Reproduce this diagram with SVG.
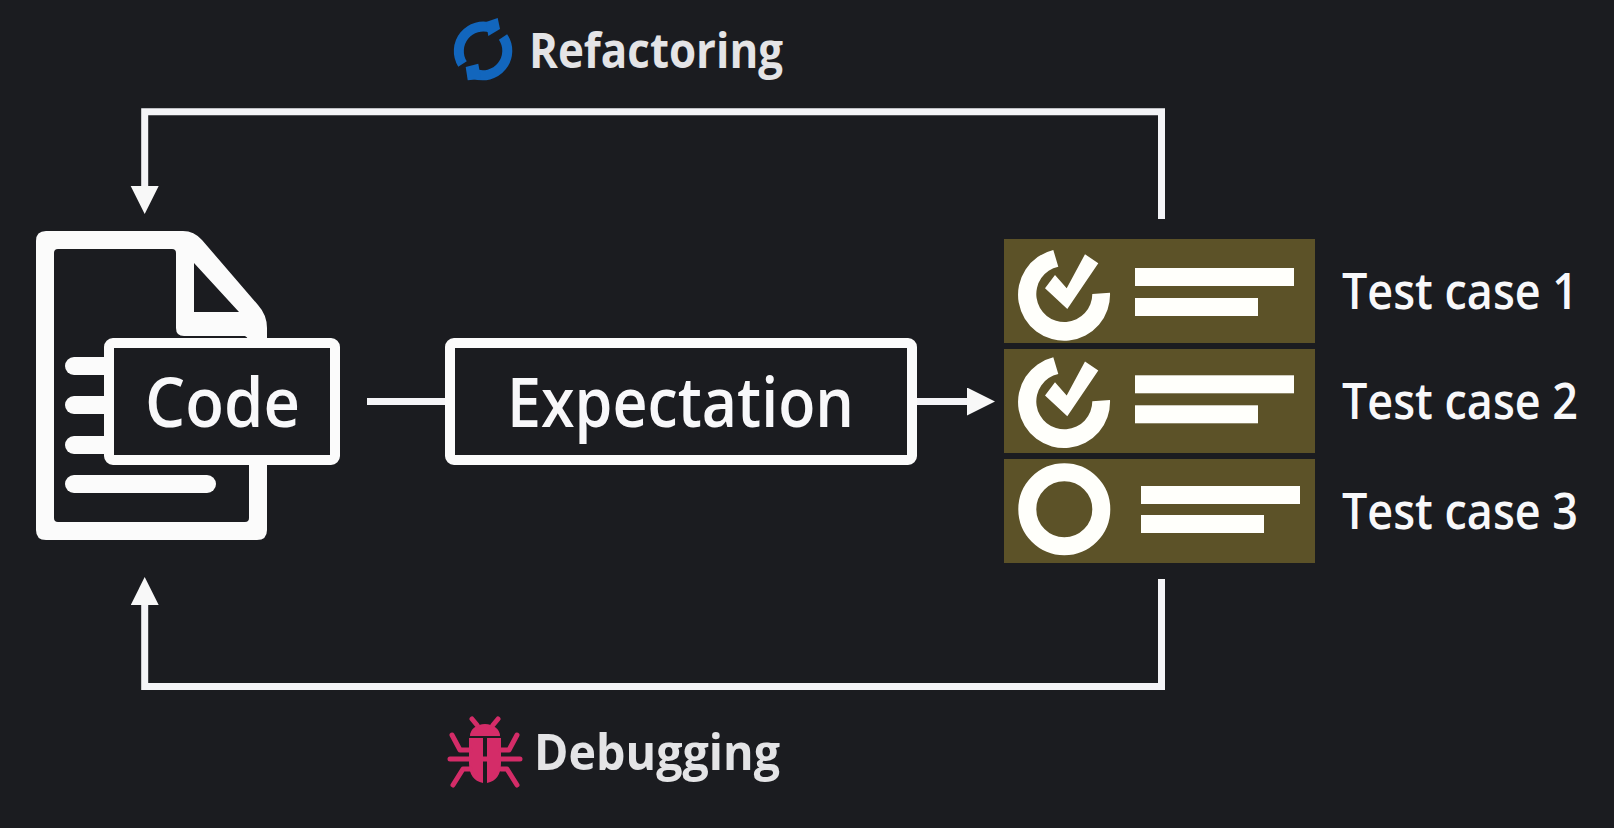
<svg xmlns="http://www.w3.org/2000/svg" width="1614" height="828" viewBox="0 0 1614 828">
<defs>
<style>
.lbl{font-family:"Open Sans","Noto Sans","Liberation Sans",sans-serif;font-weight:700;fill:#e4e4e6}
.box{font-family:"Open Sans","Noto Sans","Liberation Sans",sans-serif;font-weight:600;fill:#f8f8fa}
.w{fill:#fbfbfb}
.conn{fill:none;stroke:#f4f4f7;stroke-width:7}
.tc{fill:#5c5228}
.bar{fill:#fffffb}
.leg{fill:none;stroke:#d42c68;stroke-width:5;stroke-linecap:round;stroke-linejoin:round}
</style>
<marker id="ah" markerUnits="userSpaceOnUse" markerWidth="30" markerHeight="30" refX="1" refY="14" orient="auto"><path d="M0 0L28 14L0 28Z" fill="#f8f8f8"/></marker>
<g id="check">
<path fill="#fffffb" d="M1053.3 250A46 46 0 1 0 1110 292.7L1092.3 294A28 28 0 1 1 1058.3 266.7Z"/>
<path fill="#fffffb" d="M1045 288.3L1055 275L1066.7 288.3L1085 254.3L1098.3 263.3L1067.3 309Z"/>
<rect class="bar" x="1135" y="268" width="159" height="18"/>
<rect class="bar" x="1135" y="298" width="123" height="18"/>
</g>
</defs>
<rect width="1614" height="828" fill="#1b1c20"/>
<g id="connectors">
<path class="conn" d="M1161.5 219V111.8H144.7V187" marker-end="url(#ah)"/>
<path class="conn" d="M1161.5 579V686.5H144.7V604" marker-end="url(#ah)"/>
<path class="conn" d="M367 401.5H450"/>
<path class="conn" d="M912 401.5H968" marker-end="url(#ah)"/>
</g>
<g id="refactoring">
<path d="M491.5 28A24.5 24.5 0 0 0 462.5 64" fill="none" stroke="#1266bd" stroke-width="10"/>
<path d="M503 37A24.5 24.5 0 0 1 473.5 73.5" fill="none" stroke="#1266bd" stroke-width="10"/>
<path d="M497.7 18L500 29L488.3 36L486 22Z" fill="#1266bd"/>
<path d="M467.7 80.3L465.7 67L478.3 63.7L481 79Z" fill="#1266bd"/>
<text class="lbl" x="529" y="68" font-size="49" textLength="254" lengthAdjust="spacingAndGlyphs">Refactoring</text>
</g>
<g id="debugging">
<path d="M470 736a15 12 0 0 1 30 0Z" fill="#d42c68"/>
<path d="M469 738h14v45q-14 -3 -14 -20ZM501 738h-14v45q14 -3 14 -20Z" fill="#d42c68"/>
<path class="leg" d="M472 719l5 6M498 719l-5 6M452 735l8 15h10M517 735l-8 15h-8M450 759h70M453 785l10 -16h7M517 785l-10 -16h-6"/>
<text class="lbl" x="534" y="770" font-size="50" textLength="246" lengthAdjust="spacingAndGlyphs">Debugging</text>
</g>
<g id="code">
<path class="w" fill-rule="evenodd" d="M46 231H183Q194 231 202 240L258 305Q267 315 267 328V530Q267 540 257 540H46Q36 540 36 530V241Q36 231 46 231ZM58 249Q54 249 54 253V518Q54 522 58 522H245Q249 522 249 518V344Q249 338 245 336H184Q176 336 176 328V253Q176 249 172 249ZM194 263V312H239Z"/>
<rect class="w" x="65" y="357" width="48" height="18" rx="9"/>
<rect class="w" x="65" y="396" width="48" height="18" rx="9"/>
<rect class="w" x="65" y="436" width="48" height="18" rx="9"/>
<rect class="w" x="65" y="475" width="151" height="18" rx="9"/>
<rect x="109" y="343" width="226" height="117" rx="4" fill="#1b1c20" stroke="#fbfbfb" stroke-width="10"/>
<text class="box" x="145" y="427" font-size="68" textLength="155" lengthAdjust="spacingAndGlyphs">Code</text>
</g>
<g id="expectation">
<rect x="450" y="343" width="462" height="117" rx="4" fill="#1b1c20" stroke="#fbfbfb" stroke-width="10"/>
<text class="box" x="507" y="427" font-size="68" textLength="347" lengthAdjust="spacingAndGlyphs">Expectation</text>
</g>
<g id="test1">
<rect class="tc" x="1004" y="239" width="311" height="104"/>
<use href="#check"/>
<text class="box" x="1342" y="309" font-size="50" textLength="236" lengthAdjust="spacingAndGlyphs">Test case 1</text>
</g>
<g id="test2">
<rect class="tc" x="1004" y="349" width="311" height="104"/>
<use href="#check" y="107.3"/>
<text class="box" x="1342" y="419" font-size="50" textLength="236" lengthAdjust="spacingAndGlyphs">Test case 2</text>
</g>
<g id="test3">
<rect class="tc" x="1004" y="459" width="311" height="104"/>
<circle cx="1064.3" cy="509.3" r="37" fill="none" stroke="#fffffb" stroke-width="18"/>
<rect class="bar" x="1141" y="486" width="159" height="18"/>
<rect class="bar" x="1141" y="515" width="123" height="18"/>
<text class="box" x="1342" y="529" font-size="50" textLength="236" lengthAdjust="spacingAndGlyphs">Test case 3</text>
</g>
</svg>
